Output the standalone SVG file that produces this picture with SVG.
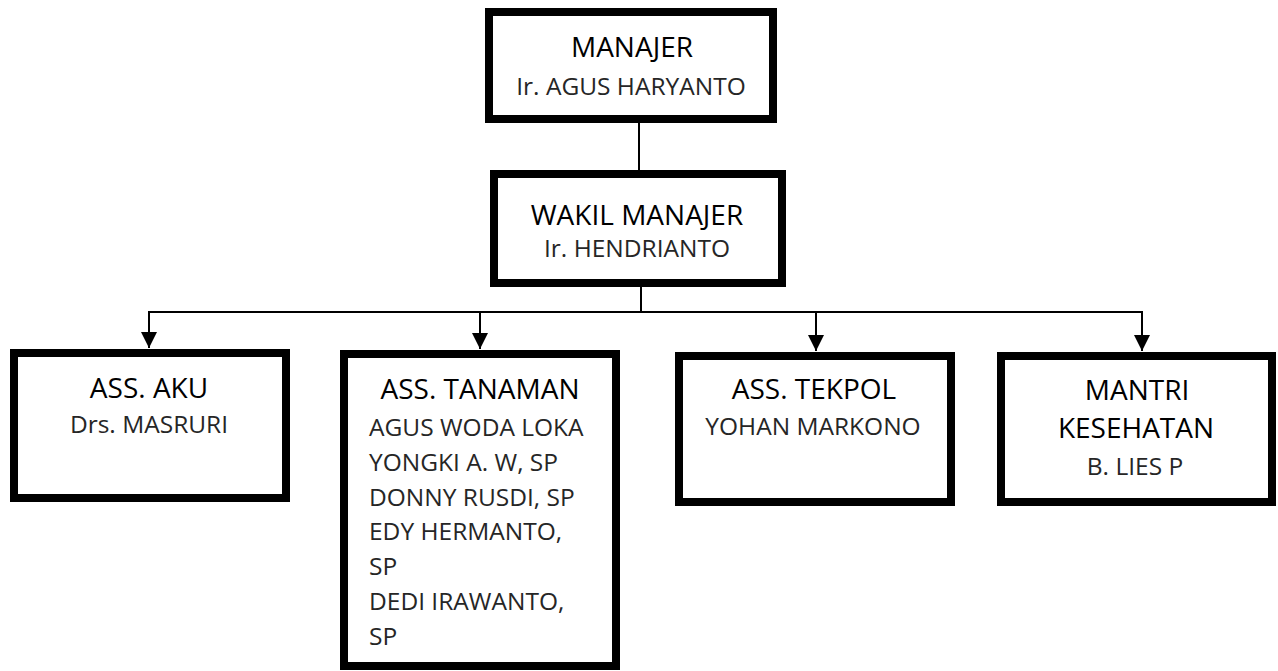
<svg xmlns="http://www.w3.org/2000/svg" width="1278" height="671" viewBox="0 0 1278 671">
<style>
.box{fill:#fff;stroke:#000;stroke-width:8}
.t{font-family:"Open Sans","Noto Sans",sans-serif;font-size:28px;fill:#000;text-anchor:middle}
.n{font-family:"Open Sans","Noto Sans",sans-serif;font-size:24.5px;font-weight:400;fill:#262626;text-anchor:middle}
.l{text-anchor:start}
.c{stroke:#000;stroke-width:2;fill:none}
</style>
<defs>
<marker id="ah" markerUnits="userSpaceOnUse" markerWidth="16" markerHeight="16" refX="16" refY="8" orient="auto" viewBox="0 0 16 16">
<path d="M0,0 L16,8 L0,16 Z" fill="#000"/>
</marker>
</defs>
<rect width="1278" height="671" fill="#fff"/>
<g id="connectors">
<line class="c" x1="639" y1="123" x2="639" y2="170"/>
<line class="c" x1="641" y1="287" x2="641" y2="312"/>
<line class="c" x1="148" y1="312" x2="1143" y2="312"/>
<line class="c" x1="149" y1="311" x2="149" y2="348" marker-end="url(#ah)"/>
<line class="c" x1="480" y1="311" x2="480" y2="349" marker-end="url(#ah)"/>
<line class="c" x1="816" y1="311" x2="816" y2="351" marker-end="url(#ah)"/>
<line class="c" x1="1142" y1="311" x2="1142" y2="351" marker-end="url(#ah)"/>
</g>
<g id="manajer">
<rect class="box" x="489" y="12" width="284" height="107"/>
<text class="t" x="632" y="57">MANAJER</text>
<text class="n" x="631" y="95">Ir. AGUS HARYANTO</text>
</g>
<g id="wakil">
<rect class="box" x="494" y="174" width="288" height="109"/>
<text class="t" x="637" y="225">WAKIL MANAJER</text>
<text class="n" x="637" y="257">Ir. HENDRIANTO</text>
</g>
<g id="aku">
<rect class="box" x="14" y="353" width="272" height="145"/>
<text class="t" x="149" y="398">ASS. AKU</text>
<text class="n" x="149" y="433">Drs. MASRURI</text>
</g>
<g id="tanaman">
<rect class="box" x="344" y="354" width="272" height="312"/>
<text class="t" x="480" y="399">ASS. TANAMAN</text>
<text class="n l" x="369" y="436">AGUS WODA LOKA</text>
<text class="n l" x="369" y="471">YONGKI A. W, SP</text>
<text class="n l" x="369" y="506">DONNY RUSDI, SP</text>
<text class="n l" x="369" y="540">EDY HERMANTO,</text>
<text class="n l" x="369" y="575">SP</text>
<text class="n l" x="369" y="610">DEDI IRAWANTO,</text>
<text class="n l" x="369" y="645">SP</text>
</g>
<g id="tekpol">
<rect class="box" x="679" y="356" width="272" height="146"/>
<text class="t" x="814" y="399">ASS. TEKPOL</text>
<text class="n" x="813" y="435">YOHAN MARKONO</text>
</g>
<g id="mantri">
<rect class="box" x="1001" y="356" width="271" height="146"/>
<text class="t" x="1137" y="400">MANTRI</text>
<text class="t" x="1136" y="438">KESEHATAN</text>
<text class="n" x="1135" y="475">B. LIES P</text>
</g>
</svg>
